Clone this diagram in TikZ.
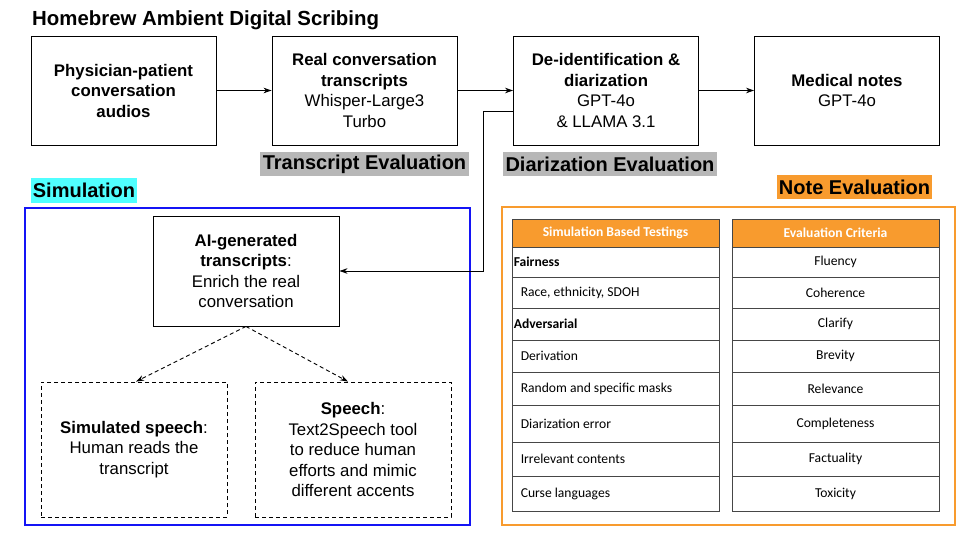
\documentclass[tikz,border=0pt]{standalone}
\usepackage{fontspec}
\setmainfont{Liberation Sans}
\newfontfamily\tabfont{Carlito}
\usetikzlibrary{arrows.meta,calc}
\definecolor{orng}{RGB}{248,155,46}
\definecolor{simblue}{RGB}{20,20,245}
\definecolor{cyanbg}{RGB}{80,255,255}
\definecolor{graybg}{RGB}{183,183,183}
\definecolor{tabline}{RGB}{70,70,70}
\begin{document}
\begin{tikzpicture}[x=1pt,y=-1pt]
\useasboundingbox (0,0) rectangle (973,534);
\tikzset{
  box/.style={draw=black,line width=0.9pt,minimum width=185pt,minimum height=109pt,inner sep=0pt,align=center,font=\fontsize{16.8}{20.5}\selectfont},
  dbox/.style={box,line width=0.8pt,dash pattern=on 4pt off 3pt},
  arr/.style={line width=0.9pt,-{Stealth[length=8pt,width=5.5pt]}},
  darr/.style={arr,dash pattern=on 4pt off 3pt},
  lbl/.style={inner sep=0pt,minimum height=24pt,font=\fontsize{20}{24}\selectfont\bfseries},
  cell/.style={draw=tabline,line width=0.8pt,minimum width=207pt,inner sep=0pt},
  hcell/.style={cell,fill=orng,minimum height=28pt,text=white,font=\tabfont\fontsize{13.6}{16}\selectfont\bfseries},
  ttxt/.style={inner sep=0pt,font=\tabfont\fontsize{13.6}{16}\selectfont}
}
% title
\node[anchor=base west,inner sep=0pt,font=\fontsize{20.4}{24}\selectfont\bfseries] (title) at (32,26) {Homebrew Ambient Digital Scribing};
% top boxes
\node[box] (b1) at (123.5,90.5) {\textbf{Physician-patient}\\\textbf{conversation}\\\textbf{audios}};
\node[box] (b2) at (364.5,90.5) {\textbf{Real conversation}\\\textbf{transcripts}\\Whisper-Large3\\Turbo};
\node[box] (b3) at (606,90.5) {\textbf{De-identification \&}\\\textbf{diarization}\\GPT-4o\\\& LLAMA 3.1};
\node[box] (b4) at (847,90.5) {\textbf{Medical notes}\\GPT-4o};
\draw[arr] (b1) -- (b2);
\draw[arr] (b2) -- (b3);
\draw[arr] (b3) -- (b4);
% labels
\node[lbl,fill=graybg,minimum width=209pt] (tev) at (364.5,164) {Transcript Evaluation};
\node[lbl,fill=graybg,minimum width=214pt] (dev) at (610,164) {Diarization Evaluation};
\node[lbl,fill=orng,minimum width=155pt] (nev) at (854.5,187) {Note Evaluation};
\node[lbl,fill=cyanbg,minimum width=106pt,minimum height=25pt] (sim) at (84,190.5) {Simulation};
% simulation frame
\node[draw=simblue,line width=2pt,minimum width=445pt,minimum height=317pt,inner sep=0pt] (simframe) at (247.5,366.5) {};
\node[box,minimum width=186pt,minimum height=110pt] (ai) at (246,271) {\textbf{AI-generated}\\\textbf{transcripts}:\\Enrich the real\\conversation};
\node[dbox,minimum width=186pt,minimum height=135pt] (ds1) at (134,449.5) {\textbf{Simulated speech}:\\Human reads the\\transcript};
\node[dbox,minimum width=196pt,minimum height=135pt] (ds2) at (353,449.5) {\textbf{Speech}:\\Text2Speech tool\\to reduce human\\efforts and mimic\\different accents};
\draw[darr] (ai.south) -- ([xshift=2pt]ds1.north);
\draw[darr] (ai.south) -- ([xshift=-5pt]ds2.north);
% connector from de-identification to AI box
\draw[arr] ([yshift=-20.5pt]b3.west) -| (483,271) -- (ai.east);
% note evaluation frame
\node[draw=orng,line width=2.2pt,minimum width=453pt,minimum height=318pt,inner sep=0pt] (noteframe) at (728.5,366) {};
% tables
\node[hcell] (LH) at (615.5,233) {Simulation Based Testings};
\node[hcell] (RH) at (835.5,233) {Evaluation Criteria};
\foreach \ya/\yb/\lt/\rt/\ind [count=\i] in {
  247/277/{\textbf{Fairness}}/Fluency/2,
  277/308/{Race, ethnicity, SDOH}/Coherence/9,
  308/340/{\textbf{Adversarial}}/Clarify/2,
  340/372/{Derivation}/Brevity/9,
  372/405/{Random and specific masks}/Relevance/9,
  405/442/{Diarization error}/Completeness/9,
  442/476/{Irrelevant contents}/Factuality/9,
  476/511/{Curse languages}/Toxicity/9}
{
  \node[cell,minimum height={(\yb-\ya)*1pt}] (L\i) at (615.5,{(\ya+\yb)/2}) {};
  \node[cell,minimum height={(\yb-\ya)*1pt}] (R\i) at (835.5,{(\ya+\yb)/2}) {};
  \node[ttxt,anchor=west] (Lt\i) at ([xshift=\ind pt]L\i.west) {\lt};
  \node[ttxt] (Rt\i) at (R\i) {\rt};
}
\end{tikzpicture}
\end{document}
